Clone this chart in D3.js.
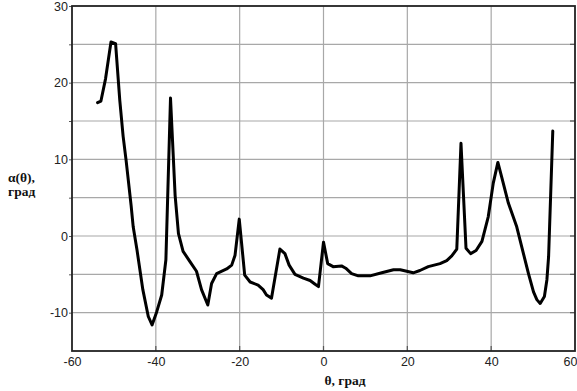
<!DOCTYPE html>
<html>
<head>
<meta charset="utf-8">
<script src="https://cdn.jsdelivr.net/npm/d3@7"></script>
<style>
  html, body { margin: 0; padding: 0; background: #fff; }
  svg { display: block; }
</style>
</head>
<body>
<svg id="chart" width="577" height="391"></svg>
<script>
const theta = [-53.9, -53.1, -52.0, -50.7, -49.6, -48.6, -47.8, -47.1, -45.9, -45.4, -44.5, -43.1, -41.8, -40.9,
  -39.8, -38.6, -37.6, -36.5, -35.4, -34.6, -33.5, -31.9, -30.3, -29.1, -27.6, -26.7, -25.5, -23.1, -21.9, -21.1,
  -20.1, -18.8, -17.5, -15.6, -14.4, -13.6, -12.4, -10.4, -9.2, -8.2, -6.8, -4.8, -3.2, -2.0, -1.2,
  0.0, 1.0, 2.3, 4.3, 5.3, 6.7, 8.3, 11.1, 13.9, 16.7, 18.3, 21.4, 23.0, 25.0, 27.8, 29.4, 30.6, 31.8,
  32.8, 34.0, 35.1, 36.4, 37.8, 39.3, 40.5, 41.6, 42.5, 44.1, 46.1, 47.7, 48.9, 50.1, 50.9, 51.7, 52.7,
  53.3, 53.7, 54.7];
const alpha = [17.4, 17.6, 20.5, 25.3, 25.1, 17.7, 13.0, 9.9, 4.0, 1.2, -1.8, -7.0, -10.5, -11.6,
  -9.9, -7.7, -3.1, 18.0, 5.3, 0.3, -2.0, -3.3, -4.6, -7.0, -9.0, -6.2, -4.9, -4.3, -3.8, -2.5,
  2.2, -5.1, -6.0, -6.4, -7.0, -7.7, -8.1, -1.7, -2.3, -3.8, -5.0, -5.5, -5.8, -6.3, -6.6,
  -0.8, -3.6, -4.0, -3.9, -4.2, -4.9, -5.2, -5.2, -4.8, -4.4, -4.4, -4.8, -4.5, -4.0, -3.6, -3.2, -2.6, -1.7,
  12.1, -1.6, -2.3, -1.9, -0.7, 2.5, 6.9, 9.6, 7.7, 4.3, 1.2, -2.3, -4.9, -7.3, -8.3, -8.8, -7.9,
  -5.7, -2.7, 13.7];
const xTicks = [-60, -40, -20, 0, 20, 40, 60];
const xGrid = [-40, -20, 0, 20, 40];
const yTicks = [-10, -5, 0, 5, 10, 15, 20, 25, 30];
const yLabelled = [-10, 0, 10, 20, 30];
const yTitle = ["α(θ),", "град"];
const xTitle = "θ, град";

const svg = d3.select("#chart");
const L = 72, R = 575, T = 6, B = 351;
const x = d3.scaleLinear().domain([-60, 60]).range([L, R]);
const y = d3.scaleLinear().domain([-15, 30]).range([B, T]);
const fmt = d => String(d).replace("\u2212", "-");

// grid
svg.append("g").selectAll("line").data(yTicks.filter(d => d < 30)).join("line")
  .attr("x1", L).attr("x2", R).attr("y1", d => y(d)).attr("y2", d => y(d))
  .attr("stroke", "#a8a8a8").attr("stroke-width", 1.2);
svg.append("g").selectAll("line").data(xGrid).join("line")
  .attr("x1", d => x(d)).attr("x2", d => x(d)).attr("y1", T).attr("y2", B)
  .attr("stroke", "#a8a8a8").attr("stroke-width", 1.2);

// axes
const fontFam = "'Liberation Sans', Arial, sans-serif";
const yAxis = svg.append("g").attr("transform", `translate(${L},0)`)
  .call(d3.axisLeft(y).tickValues(yTicks).tickSize(3).tickPadding(1)
    .tickFormat(d => yLabelled.includes(d) ? fmt(d) : ""));
const xAxis = svg.append("g").attr("transform", `translate(0,${B})`)
  .call(d3.axisBottom(x).tickValues(xTicks).tickSize(0).tickPadding(6).tickFormat(fmt));
[yAxis, xAxis].forEach(g => {
  g.select(".domain").remove();
  g.selectAll("text").attr("font-family", fontFam).attr("font-size", 12.5).attr("fill", "#222");
  g.selectAll("line").attr("stroke", "#555");
});
// keep the last x label inside the window
xAxis.selectAll(".tick").filter(d => d === 60).select("text")
  .attr("text-anchor", "end").attr("x", 577 - R);

// inner tick marks on right side and bottom
svg.append("g").selectAll("line").data(yTicks.filter(d => d < 30)).join("line")
  .attr("x1", R - 5).attr("x2", R).attr("y1", d => y(d)).attr("y2", d => y(d))
  .attr("stroke", "#555").attr("stroke-width", 1.2);
svg.append("g").selectAll("line").data(xGrid).join("line")
  .attr("x1", d => x(d)).attr("x2", d => x(d)).attr("y1", B - 5).attr("y2", B)
  .attr("stroke", "#555").attr("stroke-width", 1.2);

// frame
svg.append("rect").attr("x", L).attr("y", T).attr("width", R - L).attr("height", B - T)
  .attr("fill", "none").attr("stroke", "#222").attr("stroke-width", 1.8);

// line
const pts = theta.map((t, i) => [t, alpha[i]]);
svg.append("path").datum(pts)
  .attr("d", d3.line().x(d => x(d[0])).y(d => y(d[1])))
  .attr("fill", "none").attr("stroke", "#000").attr("stroke-width", 3)
  .attr("stroke-linejoin", "round").attr("stroke-linecap", "round");

// titles
const serif = "'Liberation Serif', 'Times New Roman', serif";
svg.append("g").selectAll("text").data(yTitle).join("text")
  .attr("x", 8).attr("y", (d, i) => 182 + i * 14)
  .attr("font-family", serif).attr("font-weight", "bold").attr("font-size", 13.5)
  .attr("fill", "#111").text(d => d);
svg.append("text").attr("x", 345).attr("y", 385).attr("text-anchor", "middle")
  .attr("font-family", serif).attr("font-weight", "bold").attr("font-size", 13.5)
  .attr("fill", "#111").text(xTitle);
</script>
</body>
</html>
